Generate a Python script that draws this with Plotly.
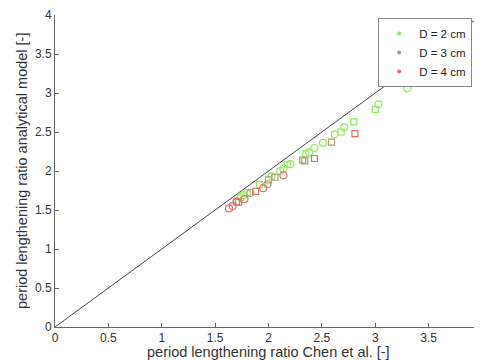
import plotly.graph_objects as go

# D = 2 cm
d2_circ_x = [3.30, 3.03, 2.71, 2.62, 2.51, 2.43, 2.38, 2.205, 2.14, 2.11, 2.03, 1.80, 1.765, 1.74]
d2_circ_y = [3.06, 2.855, 2.56, 2.47, 2.36, 2.295, 2.24, 2.09, 2.03, 2.00, 1.93, 1.72, 1.69, 1.66]
d2_sq_x = [3.00, 2.80, 2.68, 2.35, 2.18, 1.915]
d2_sq_y = [2.79, 2.63, 2.50, 2.22, 2.08, 1.825]
# D = 3 cm
d3_sq_x = [2.59, 2.32, 2.34, 2.06, 2.00]
d3_sq_y = [2.37, 2.14, 2.13, 1.92, 1.885]
d3_circ_x = [1.99, 1.83, 1.70]
d3_circ_y = [1.83, 1.72, 1.61]
# D = 4 cm
d4_sq_x = [2.81, 2.43, 1.88, 1.72, 1.70]
d4_sq_y = [2.48, 2.16, 1.74, 1.60, 1.60]
d4_circ_x = [2.14, 1.95, 1.775, 1.665, 1.63]
d4_circ_y = [1.945, 1.78, 1.64, 1.55, 1.52]

diag = [0, 4]
labels = ["D = 2 cm", "D = 3 cm", "D = 4 cm"]
colors = ["#90e860", "#a8a070", "#e07070"]
x_title = "period lengthening ratio Chen et al. [-]"
y_title = "period lengthening ratio analytical model [-]"

fig = go.Figure()
fig.add_trace(go.Scatter(x=diag, y=diag, mode="lines", line=dict(color="#444444", width=1),
                         showlegend=False, hoverinfo="skip"))

series = [
    (d2_circ_x, d2_circ_y, d2_sq_x, d2_sq_y),
    (d3_circ_x, d3_circ_y, d3_sq_x, d3_sq_y),
    (d4_circ_x, d4_circ_y, d4_sq_x, d4_sq_y),
]
for (cx, cy, sx, sy), lab, col in zip(series, labels, colors):
    fig.add_trace(go.Scatter(x=cx, y=cy, mode="markers", legendgroup=lab, showlegend=False,
                             marker=dict(symbol="circle-open", size=7, color=col, line=dict(width=1.2, color=col))))
    fig.add_trace(go.Scatter(x=sx, y=sy, mode="markers", legendgroup=lab, showlegend=False,
                             marker=dict(symbol="square-open", size=6, color=col, line=dict(width=1.2, color=col))))
    fig.add_trace(go.Scatter(x=[None], y=[None], mode="markers", legendgroup=lab, name=lab,
                             marker=dict(symbol="circle", size=4, color=col)))

axis_common = dict(range=[0, 4], dtick=0.5, showgrid=False, zeroline=False, showline=True,
                   linecolor="#666666", linewidth=1, ticks="inside", ticklen=4, tickcolor="#666666",
                   tickfont=dict(size=12, color="#333333"), mirror=False, automargin=False,
                   ticklabeloverflow="allow")
fig.update_layout(
    width=474, height=352,
    margin=dict(l=47, r=0, t=7, b=33),
    paper_bgcolor="white", plot_bgcolor="white",
    font=dict(family="Liberation Sans, Arial, sans-serif", color="#333333"),
    xaxis=dict(**axis_common),
    yaxis=dict(**axis_common),
    legend=dict(x=0.977, y=0.99, xanchor="right", yanchor="top", bgcolor="white",
                bordercolor="#888888", borderwidth=1, font=dict(size=11.5, color="#222222"),
                tracegroupgap=0, itemwidth=30),
    showlegend=True,
    annotations=[
        dict(text=x_title, xref="paper", yref="paper", x=0.5, y=0, yanchor="middle",
             yshift=-25, showarrow=False, font=dict(size=14.5, color="#333333")),
        dict(text=y_title, xref="paper", yref="paper", x=0, y=0.5, xanchor="center",
             xshift=-33, textangle=-90, showarrow=False, font=dict(size=14.5, color="#333333")),
    ],
)
fig.write_html("out.html")
